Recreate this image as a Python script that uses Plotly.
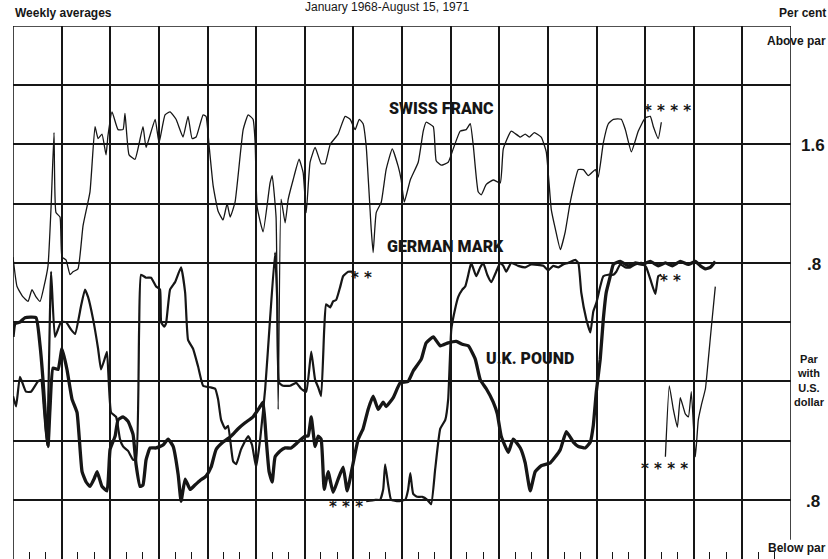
import plotly.graph_objects as go

# Weekly averages, January 1968 - August 15, 1971.
# x: months since 1 January 1968, y: per cent above (+) / below (-) par with the U.S. dollar

# Swiss franc, before the May 1971 revaluation
sf_months = [0, 0.25, 0.62, 0.93, 1.17, 1.42, 1.67, 1.91, 2.16, 2.35, 2.53, 2.65, 2.90, 3.02,
             3.27, 3.52, 3.70, 4.01, 4.32, 4.75, 5.06, 5.25, 5.49, 5.74, 5.86, 6.11, 6.48,
             6.79, 6.91, 7.16, 7.53, 8.02, 8.21, 8.77, 9.01, 9.38, 9.69, 10.06, 10.49, 10.80,
             11.05, 11.30, 11.73, 11.91, 12.10, 12.35, 12.65, 12.96, 13.21, 13.40, 13.70,
             14.20, 14.51, 14.81, 14.94, 15.06, 15.43, 15.86, 15.99, 16.23, 16.36, 16.54,
             16.79, 16.98, 17.28, 17.65, 17.90, 18.09, 18.33, 18.64, 19.01, 19.26, 19.57,
             20.06, 20.49, 20.80, 21.11, 21.36, 21.60, 21.79, 22.10, 22.22, 22.41, 22.72,
             23.02, 23.40, 23.77, 23.95, 24.14, 24.51, 25.00, 25.31, 25.49, 25.93, 26.11,
             26.42, 26.85, 27.16, 27.59, 27.96, 28.21, 28.40, 28.70, 28.89, 29.20, 29.63,
             30.06, 30.25, 30.74, 31.30, 31.60, 31.85, 32.16, 32.59, 32.90, 33.21, 33.46,
             33.77, 34.07, 34.38, 34.88, 35.19, 35.49, 35.93, 36.11, 36.42, 36.73, 37.04,
             37.53, 37.78, 38.15, 38.58, 39.01, 39.32, 39.51, 39.81, 40.00]
sf_values = [0.84, 0.64, 0.57, 0.54, 0.62, 0.57, 0.54, 0.64, 0.78, 1.18, 1.68, 1.14, 1.11, 0.84,
             0.82, 0.72, 0.74, 0.76, 1.05, 1.28, 1.72, 1.64, 1.67, 1.53, 1.66, 1.82, 1.70,
             1.70, 1.81, 1.53, 1.50, 1.72, 1.58, 1.77, 1.61, 1.80, 1.82, 1.77, 1.65, 1.79,
             1.64, 1.65, 1.80, 1.79, 1.59, 1.32, 1.15, 1.09, 1.20, 1.11, 1.21,
             1.70, 1.80, 1.77, 1.61, 1.18, 1.01, 1.34, 1.39, 1.11, -0.19, 1.23,
             1.07, 1.23, 1.36, 1.50, 1.41, 1.14, 1.48, 1.58, 1.47, 1.47, 1.60,
             1.67, 1.79, 1.77, 1.70, 1.77, 1.74, 1.59, 1.03, 0.87, 1.14, 1.21,
             1.43, 1.57, 1.45, 1.36, 1.21, 1.36, 1.48, 1.69, 1.75, 1.72, 1.49,
             1.46, 1.48, 1.57, 1.69, 1.70, 1.74, 1.59, 1.28, 1.26, 1.33, 1.36,
             1.34, 1.57, 1.69, 1.65, 1.67, 1.65, 1.68, 1.65, 1.55, 1.16, 1.03,
             0.89, 1.01, 1.21, 1.43, 1.43, 1.39, 1.43, 1.38, 1.61, 1.74, 1.77,
             1.77, 1.70, 1.55, 1.69, 1.78, 1.79, 1.72, 1.64, 1.75]

# Swiss franc, new par after revaluation
sf_new_months = [40.25, 40.49, 40.74, 40.99, 41.17, 41.48, 41.67, 41.85, 42.10, 42.28, 42.47,
                 42.72, 42.90, 43.09, 43.33]
sf_new_values = [-0.51, -0.03, -0.19, -0.31, -0.11, -0.22, -0.24, -0.07, -0.51, -0.26, -0.16,
                 -0.05, 0.15, 0.37, 0.64]

# German mark, old par (to the September 1969 float)
dm_months = [0, 0.19, 0.43, 0.80, 1.11, 1.54, 1.73, 1.91, 2.10, 2.35, 2.59, 2.96, 3.27, 3.58,
             3.83, 4.20, 4.44, 4.63, 4.94, 5.25, 5.43, 5.68, 5.80, 6.05, 6.36, 6.60, 6.79,
             7.10, 7.41, 7.59, 7.78, 7.90, 8.21, 8.52, 8.83, 9.07, 9.14, 9.32, 9.44, 9.69,
             10.00, 10.37, 10.62, 10.80, 11.11, 11.42, 11.73, 12.16, 12.47, 12.65, 12.84,
             13.09, 13.27, 13.58, 13.77, 14.07, 14.51, 14.75, 15.00, 15.25, 15.56, 15.86,
             16.17, 16.30, 16.42, 16.67, 17.10, 17.47, 17.78, 18.09, 18.40, 18.64, 18.83,
             19.01, 19.20, 19.32, 19.57, 19.75, 19.94, 20.19, 20.37, 20.68, 20.99]
dm_values = [-0.10, -0.17, 0.03, -0.07, -0.07, 0.00, 0.01, -0.19, -0.43, 0.74, 0.30, 0.40, 0.40,
             0.35, 0.32, 0.51, 0.62, 0.57, 0.42, 0.22, 0.08, 0.16, 0.20, -0.21, -0.24, -0.39,
             -0.44, -0.47, -0.53, -0.53, 0.35, 0.72, 0.70, 0.70, 0.64, 0.62, 0.40, 0.37, 0.39,
             0.62, 0.67, 0.77, 0.60, 0.28, 0.22, 0.10, -0.03, -0.04, -0.05, -0.12, -0.26,
             -0.32, -0.30, -0.54, -0.56, -0.46, -0.37, -0.43, -0.58, -0.39, -0.05, 0.42,
             0.87, 0.55, -0.01, -0.03, -0.03, -0.01, -0.05, -0.07, 0.20, 0.01, -0.04,
             -0.10, 0.35, 0.52, 0.50, 0.54, 0.55, 0.64, 0.71, 0.74, 0.74]

# German mark, new par (October 1969 to the May 1971 float)
dm_new_months = [21.79, 22.35, 22.65, 22.84, 22.96, 23.15, 23.33, 23.77, 24.20, 24.38, 24.51,
                 24.69, 24.94, 25.25, 25.56, 25.80, 26.05, 26.36, 26.67, 26.85, 27.04, 27.28,
                 27.47, 27.72, 27.90, 28.09, 28.27, 28.58, 28.83, 29.01, 29.26, 29.51, 29.81,
                 30.06, 30.25, 30.43, 30.74, 31.17, 31.60, 31.98, 32.72, 33.02, 33.33, 33.64,
                 33.95, 34.26, 34.69, 34.88, 35.06, 35.37, 35.62, 35.80, 35.99, 36.23, 36.42,
                 36.73, 37.04, 37.22, 37.47, 37.78, 38.09, 38.40, 38.77, 39.07, 39.32, 39.63,
                 39.81, 40.00]
dm_new_values = [-0.81, -0.80, -0.80, -0.73, -0.56, -0.70, -0.80, -0.81, -0.80, -0.73, -0.62,
                 -0.76, -0.78, -0.78, -0.80, -0.83, -0.59, -0.32, -0.26, -0.12, 0.35, 0.49,
                 0.57, 0.62, 0.64, 0.72, 0.80, 0.71, 0.77, 0.80, 0.72, 0.67, 0.74,
                 0.80, 0.78, 0.74, 0.80, 0.78, 0.77, 0.79, 0.78, 0.75, 0.78, 0.77,
                 0.79, 0.80, 0.82, 0.80, 0.60, 0.42, 0.33, 0.47, 0.53, 0.64, 0.71,
                 0.72, 0.72, 0.74, 0.79, 0.77, 0.77, 0.79, 0.80, 0.77, 0.69, 0.59,
                 0.71, 0.72]

# U.K. pound
gbp_months = [0, 0.12, 0.43, 0.74, 1.42, 1.67, 1.85, 2.04, 2.16, 2.28, 2.47, 2.78, 3.02, 3.33,
              3.64, 3.95, 4.26, 4.51, 4.75, 5.00, 5.19, 5.49, 5.80, 5.99, 6.30, 6.48, 6.79,
              7.10, 7.41, 7.59, 7.84, 8.02, 8.21, 8.46, 8.83, 9.26, 9.57, 9.88, 10.19, 10.37,
              10.62, 10.93, 11.23, 11.54, 11.91, 12.22, 12.53, 12.96, 13.46, 13.89, 14.32,
              14.81, 15.25, 15.43, 15.62, 15.80, 15.99, 16.17, 16.48, 16.79, 17.16, 17.59,
              18.02, 18.21, 18.40, 18.64, 18.83, 19.01, 19.20, 19.44, 19.75, 20.06, 20.37,
              20.62, 20.99, 21.30, 21.60, 21.91, 22.22, 22.53, 22.84, 23.02, 23.46, 23.89,
              24.38, 24.69, 25.19, 25.49, 25.93, 26.36, 26.85, 27.35, 27.72, 28.09, 28.52,
              28.83, 29.20, 29.63, 29.88, 30.12, 30.56, 30.86, 31.30, 31.60, 31.91, 32.22,
              32.59, 33.15, 33.46, 33.77, 34.14, 34.57, 34.88, 35.31, 35.62, 35.80, 35.99,
              36.23, 36.42, 36.60, 36.85, 37.04, 37.47, 37.96, 38.40, 38.83, 39.32, 39.81,
              40.25, 40.68, 41.17, 41.67, 42.10, 42.41, 42.72, 43.02, 43.33]
gbp_values = [0.30, 0.39, 0.40, 0.43, 0.43, 0.24, 0.01, -0.30, -0.44, -0.19, 0.09, 0.08, 0.22,
              0.08, -0.12, -0.21, -0.61, -0.68, -0.71, -0.66, -0.61, -0.71, -0.74, -0.46,
              -0.37, -0.26, -0.24, -0.27, -0.36, -0.56, -0.71, -0.70, -0.53, -0.45, -0.45,
              -0.43, -0.39, -0.44, -0.63, -0.81, -0.66, -0.73, -0.70, -0.67, -0.64, -0.58,
              -0.46, -0.41, -0.37, -0.32, -0.28, -0.24, -0.17, -0.14, -0.39, -0.61, -0.68,
              -0.51, -0.47, -0.45, -0.45, -0.41, -0.37, -0.37, -0.24, -0.44, -0.37, -0.39,
              -0.73, -0.61, -0.75, -0.66, -0.58, -0.74, -0.55, -0.39, -0.32, -0.19, -0.10,
              -0.19, -0.14, -0.17, -0.11, -0.01, 0.00, 0.07, 0.15, 0.26, 0.30, 0.24, 0.26,
              0.27, 0.25, 0.24, 0.15, 0.01, -0.05, -0.14, -0.22, -0.37, -0.48, -0.39, -0.45,
              -0.55, -0.74, -0.61, -0.57, -0.55, -0.51, -0.46, -0.34, -0.41, -0.44, -0.45,
              -0.41, -0.30, -0.07, 0.15, 0.42, 0.60, 0.71, 0.79, 0.81, 0.78, 0.80, 0.79,
              0.81, 0.78, 0.80, 0.78, 0.81, 0.79, 0.81, 0.78, 0.76, 0.77, 0.81]

INK = "#161616"
LABEL_FONT = dict(family="Roboto, Liberation Sans, Arial", size=16, color=INK, weight=900)
SIDE_FONT = dict(family="Liberation Sans, Arial", size=12, color=INK, weight="bold")
STAR_FONT = dict(family="DejaVu Sans, Liberation Sans", size=15, color=INK, weight="bold")


def line(months, values, width):
    return go.Scatter(
        x=months,
        y=values,
        mode="lines",
        line=dict(color=INK, width=width, shape="spline", smoothing=0.4),
        showlegend=False,
        hoverinfo="skip",
    )


fig = go.Figure()
fig.add_trace(line(sf_months, sf_values, 1.3))
fig.add_trace(line(sf_new_months, sf_new_values, 1.3))
fig.add_trace(line(dm_months, dm_values, 2.2))
fig.add_trace(line(dm_new_months, dm_new_values, 2.2))
fig.add_trace(line(gbp_months, gbp_values, 3.3))

# frame: left, top and right edges of the grid (the edge grid lines are not drawn by plotly)
for x0, y0, x1, y1 in [(0, -1.2, 0, 2.4), (0, 2.4, 48, 2.4), (48, -1.07, 48, 2.4)]:
    fig.add_shape(type="line", xref="x", yref="y", x0=x0, y0=y0, x1=x1, y1=y1,
                  line=dict(color=INK, width=1.6), layer="below")

# series labels and footnote marks, placed in data space
in_plot = [
    ("SWISS FRANC", 26.42, 1.845, LABEL_FONT, 0),
    ("GERMAN MARK", 26.67, 0.91, LABEL_FONT, 0),
    ("U.K. POUND", 31.91, 0.155, LABEL_FONT, 0),
    ("* * * *", 40.4, 1.845, STAR_FONT, -3),
    ("* *", 21.5, 0.72, STAR_FONT, -3),
    ("* * *", 20.55, -0.83, STAR_FONT, -3),
    ("* *", 40.55, 0.70, STAR_FONT, -3),
    ("* * * *", 40.2, -0.57, STAR_FONT, -3),
]
for text, xm, yv, font, shift in in_plot:
    fig.add_annotation(x=xm, y=yv, text=text, showarrow=False, font=font,
                       xanchor="center", yanchor="middle", yshift=shift)

# texts round the frame, in paper space
outside = [
    ("Weekly averages", 0.0, 1.0244, "left", SIDE_FONT),
    ("January 1968-August 15, 1971", 0.4807, 1.0356, "center",
     dict(family="Liberation Sans, Arial", size=12, color=INK)),
    ("Per cent", 1.047, 1.0244, "right", SIDE_FONT),
    ("Above par", 1.047, 0.9719, "right", SIDE_FONT),
    ("1.6", 1.046, 0.7749, "right", dict(SIDE_FONT, size=17)),
    (".8", 1.041, 0.5516, "right", dict(SIDE_FONT, size=17)),
    ("Par<br>with<br>U.S.<br>dollar", 1.0244, 0.334, "center", dict(SIDE_FONT, size=11)),
    (".8", 1.040, 0.1088, "right", dict(SIDE_FONT, size=17)),
    ("Below par", 1.047, 0.0206, "right", SIDE_FONT),
]
for text, xp, yp, anchor, font in outside:
    fig.add_annotation(x=xp, y=yp, xref="paper", yref="paper", text=text, showarrow=False,
                       font=font, xanchor=anchor, yanchor="middle", align="center")

fig.update_layout(
    width=828,
    height=559,
    margin=dict(l=13, r=37, t=26, b=0),
    paper_bgcolor="white",
    plot_bgcolor="white",
    showlegend=False,
)
fig.update_xaxes(
    range=[0, 48],
    tick0=0,
    dtick=3,
    showgrid=True,
    gridcolor=INK,
    gridwidth=1.6,
    zeroline=False,
    showticklabels=False,
    ticks="inside",
    ticklen=7,
    tickcolor=INK,
    minor=dict(dtick=1, tick0=0, ticks="inside", ticklen=7, tickcolor=INK, tickwidth=1.4,
               showgrid=False),
)
fig.update_yaxes(
    range=[-1.2, 2.4],
    tick0=0,
    dtick=0.4,
    showgrid=True,
    gridcolor=INK,
    gridwidth=1.6,
    zeroline=False,
    showticklabels=False,
)

# the page's default body margin would shift the chart by 8px
fig.write_html("out.html", config={"displayModeBar": False},
               post_script="document.body.style.margin='0px';")
